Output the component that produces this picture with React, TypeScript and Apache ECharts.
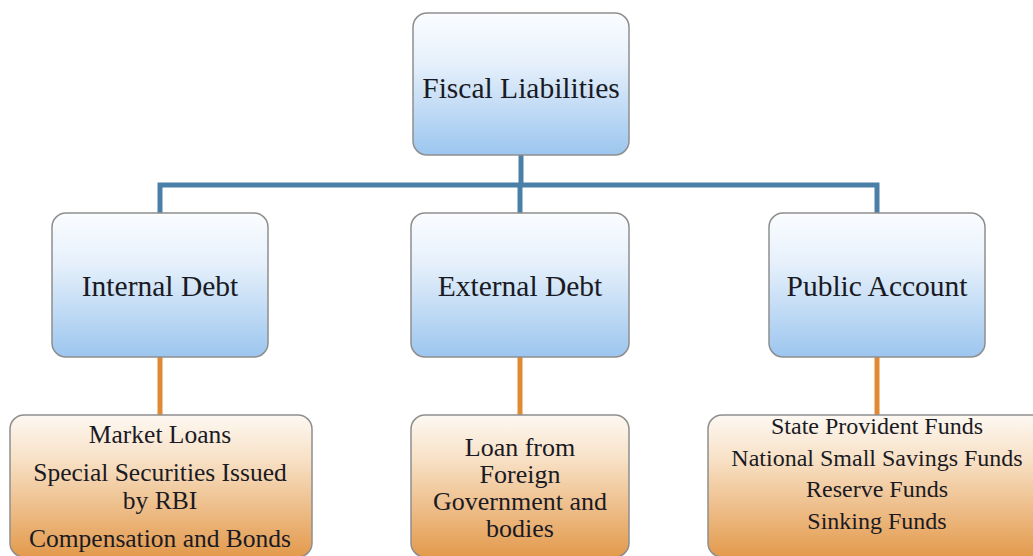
import React, { useEffect, useRef } from "react";
import * as echarts from "echarts";

// ---- data ----
const rootLabel = "Fiscal Liabilities";
const categoryLabels = ["Internal Debt", "External Debt", "Public Account"];
const internalItems = [["Market Loans"], ["Special Securities Issued", "by RBI"], ["Compensation and Bonds"]];
const externalItems = [["Loan from", "Foreign", "Government and", "bodies"]];
const publicItems = [["State Provident Funds"], ["National Small Savings Funds"], ["Reserve Funds"], ["Sinking Funds"]];
const childItems = [internalItems, externalItems, publicItems];

// ---- layout / style ----
const FONT = "Liberation Serif";
const TEXT_COLOR = "#1a1a24";
const BORDER = "#8e8e8e";
const BLUE_LINE = "#4a7fa8";
const ORANGE_LINE = "#e08a34";

const rootBox = { x: 413, y: 13, w: 216, h: 142 };
const midBoxes = [
  { x: 52, y: 213, w: 216, h: 144 },
  { x: 411, y: 213, w: 218, h: 144 },
  { x: 769, y: 213, w: 216, h: 144 },
];
const leafBoxes = [
  { x: 10, y: 415, w: 302, h: 142, fs: 25.5, lh: 28, gap: 10, first: 434 },
  { x: 411, y: 415, w: 218, h: 142, fs: 26, lh: 27, gap: 0, first: 447 },
  { x: 708, y: 415, w: 340, h: 142, fs: 24, lh: 31.6, gap: 0, first: 426 },
];
const busY = 185;
const TOP_FS = 29.5;

const blueFill = new echarts.graphic.LinearGradient(0, 0, 0, 1, [
  { offset: 0, color: "#fbfdff" },
  { offset: 0.35, color: "#e6f0fb" },
  { offset: 1, color: "#9cc6ef" },
]);
const orangeFill = new echarts.graphic.LinearGradient(0, 0, 0, 1, [
  { offset: 0, color: "#fdf8f2" },
  { offset: 0.3, color: "#f8e2c8" },
  { offset: 1, color: "#e39a4c" },
]);

function boxEl(b: any, fill: any) {
  return {
    type: "rect",
    shape: { x: b.x, y: b.y, width: b.w, height: b.h, r: 14 },
    style: { fill, stroke: BORDER, lineWidth: 1.5 },
    z: 10,
  };
}

function textEl(str: string, cx: number, cy: number, fs: number, lh: number) {
  return {
    type: "text",
    x: cx,
    y: cy,
    z: 20,
    style: {
      text: str,
      fill: TEXT_COLOR,
      fontFamily: FONT,
      fontSize: fs,
      lineHeight: lh,
      align: "center",
      verticalAlign: "middle",
    },
  };
}

export default function App() {
  const ref = useRef<HTMLDivElement>(null);
  useEffect(() => {
    if (!ref.current) return;
    const chart = echarts.init(ref.current, null, { renderer: "svg" });
    const els: any[] = [];
    const rootCx = rootBox.x + rootBox.w / 2;
    const midCx = midBoxes.map((b) => b.x + b.w / 2);

    // connectors
    els.push({ type: "line", shape: { x1: rootCx, y1: rootBox.y + rootBox.h, x2: rootCx, y2: busY }, style: { stroke: BLUE_LINE, lineWidth: 5 }, z: 5 });
    els.push({ type: "polyline", shape: { points: [[midCx[0], midBoxes[0].y], [midCx[0], busY], [midCx[2], busY], [midCx[2], midBoxes[2].y]] }, style: { stroke: BLUE_LINE, lineWidth: 5, fill: null, lineJoin: "miter" }, z: 5 });
    els.push({ type: "line", shape: { x1: midCx[1], y1: busY, x2: midCx[1], y2: midBoxes[1].y }, style: { stroke: BLUE_LINE, lineWidth: 5 }, z: 5 });
    midBoxes.forEach((b, i) => {
      els.push({ type: "line", shape: { x1: midCx[i], y1: b.y + b.h, x2: midCx[i], y2: leafBoxes[i].y }, style: { stroke: ORANGE_LINE, lineWidth: 5 }, z: 5 });
    });

    // root
    els.push(boxEl(rootBox, blueFill));
    els.push(textEl(rootLabel, rootCx, 88, TOP_FS, 32));

    // categories
    categoryLabels.forEach((lab, i) => {
      const b = midBoxes[i];
      els.push(boxEl(b, blueFill));
      els.push(textEl(lab, midCx[i], b.y + b.h / 2 + 1, TOP_FS, 32));
    });

    // leaves
    childItems.forEach((paras, i) => {
      const b = leafBoxes[i];
      els.push(boxEl(b, orangeFill));
      let y = b.first;
      paras.forEach((lines, pi) => {
        if (pi > 0) y += b.gap;
        lines.forEach((ln) => {
          els.push(textEl(ln, midCx[i], y, b.fs, b.lh - 2));
          y += b.lh;
        });
      });
    });

    chart.setOption({
      animation: false,
      backgroundColor: "#ffffff",
      graphic: { elements: els },
    });
    return () => chart.dispose();
  }, []);
  return <div ref={ref} style={{ width: 1033, height: 556, position: "absolute", left: 0, top: 0 }} />;
}
